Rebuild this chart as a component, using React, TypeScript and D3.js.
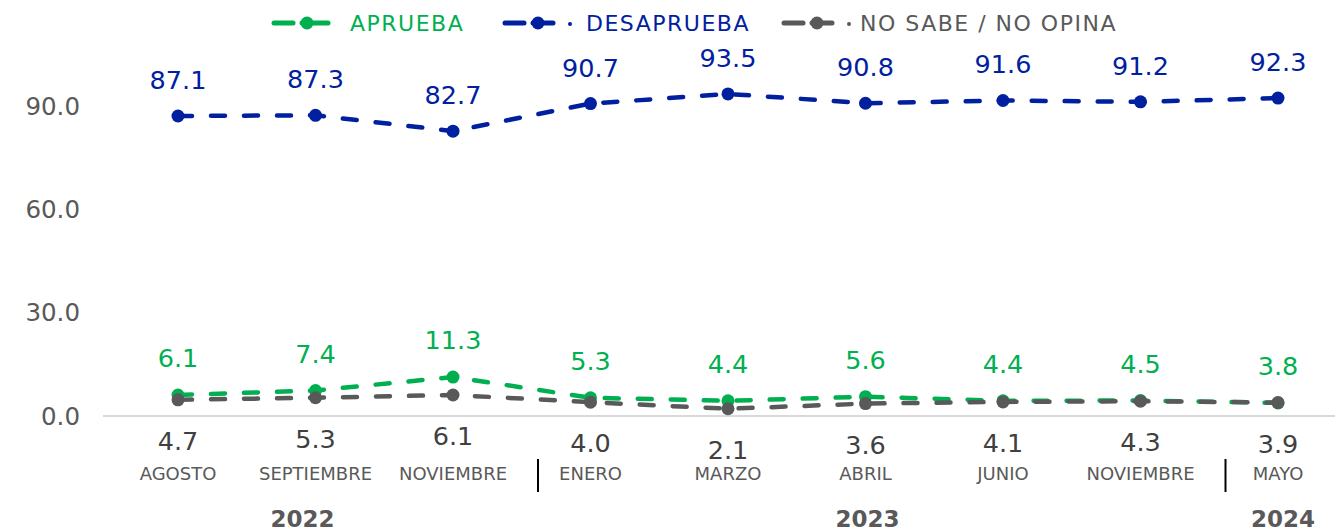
import React from 'react';
import * as d3 from 'd3';

const months = ['AGOSTO', 'SEPTIEMBRE', 'NOVIEMBRE', 'ENERO', 'MARZO', 'ABRIL', 'JUNIO', 'NOVIEMBRE', 'MAYO'];
const aprueba = [6.1, 7.4, 11.3, 5.3, 4.4, 5.6, 4.4, 4.5, 3.8];
const desaprueba = [87.1, 87.3, 82.7, 90.7, 93.5, 90.8, 91.6, 91.2, 92.3];
const noSabe = [4.7, 5.3, 6.1, 4.0, 2.1, 3.6, 4.1, 4.3, 3.9];
const yTicks = [0, 30, 60, 90];
const years = [
  { label: '2022', at: 1, dx: -13 },
  { label: '2023', at: 5, dx: 2 },
  { label: '2024', at: 8, dx: 5 },
];
const separators = [2, 7];

const GREEN = '#00B050';
const BLUE = '#0020A0';
const GRAY = '#595959';
const FONT = 'Verdana, "DejaVu Sans", sans-serif';

const W = 1335;
const H = 531;

export default function App() {
  const x = d3.scalePoint<number>().domain(d3.range(months.length)).range([178, 1278]);
  const y = d3.scaleLinear().domain([0, 90]).range([416, 106]);
  const line = d3.line<number>().x((d, i) => x(i)!).y(d => y(d));

  const series = [
    { key: 'DESAPRUEBA', values: desaprueba, color: BLUE, labelDy: -27 },
    { key: 'APRUEBA', values: aprueba, color: GREEN, labelDy: -28 },
    { key: 'NO SABE / NO OPINA', values: noSabe, color: GRAY, labelDy: 50 },
  ];

  const legend = [
    { key: 'APRUEBA', color: GREEN, x0: 272, tx: 350, dot2: false },
    { key: 'DESAPRUEBA', color: BLUE, x0: 503, tx: 586, dot2: true },
    { key: 'NO SABE / NO OPINA', color: GRAY, x0: 782, tx: 860, dot2: true },
  ];

  return (
    <svg width={W} height={H} style={{ position: 'absolute', left: 0, top: 0, background: '#fff' }} fontFamily={FONT}>
      {/* axis line */}
      <line x1={103} x2={W} y1={y(0)} y2={y(0)} stroke="#D9D9D9" strokeWidth={2} />

      {/* y ticks */}
      {yTicks.map(t => (
        <text key={t} x={80} y={y(t)} dy="0.36em" textAnchor="end" fontSize={24.5} fill={GRAY}>
          {t.toFixed(1)}
        </text>
      ))}

      {/* lines: desaprueba, aprueba, no sabe on top */}
      {series.map(s => (
        <g key={s.key}>
          <path d={line(s.values)!} fill="none" stroke={s.color} strokeWidth={4.5}
            strokeDasharray="14 19" strokeLinecap="round" />
          {s.values.map((v, i) => (
            <circle key={i} cx={x(i)} cy={y(v)} r={6.5} fill={s.color} />
          ))}
        </g>
      ))}

      {/* data labels */}
      {series.map(s => (
        <g key={s.key + '-lbl'}>
          {s.values.map((v, i) => (
            <text key={i} x={x(i)} y={y(v) + s.labelDy} textAnchor="middle" fontSize={25.5}
              fill={s.color === GRAY ? '#404040' : s.color}>
              {v.toFixed(1)}
            </text>
          ))}
        </g>
      ))}

      {/* month labels */}
      {months.map((m, i) => (
        <text key={i} x={x(i)} y={480} textAnchor="middle" fontSize={18} fill={GRAY}>
          {m}
        </text>
      ))}

      {/* separators */}
      {separators.map(i => (
        <line key={i} x1={x(i)! + 85} x2={x(i)! + 85} y1={459} y2={492} stroke="#000" strokeWidth={2} />
      ))}

      {/* years */}
      {years.map(yr => (
        <text key={yr.label} x={x(yr.at)! + yr.dx} y={527} textAnchor="middle" fontSize={23}
          fontWeight="bold" fill={GRAY}>
          {yr.label}
        </text>
      ))}

      {/* legend */}
      {legend.map(l => (
        <g key={l.key}>
          <line x1={l.x0 + 2} x2={l.x0 + 21} y1={23} y2={23} stroke={l.color} strokeWidth={5} strokeLinecap="round" />
          <line x1={l.x0 + 30} x2={l.x0 + (l.dot2 ? 50 : 56)} y1={23} y2={23} stroke={l.color} strokeWidth={5} strokeLinecap="round" />
          <circle cx={l.x0 + 35} cy={23} r={6.5} fill={l.color} />
          {l.dot2 && <circle cx={l.x0 + 67} cy={24} r={2} fill={l.color} />}
          <text x={l.tx} y={23} dy="0.36em" fontSize={22} letterSpacing={1.5}
            fill={l.color === GRAY ? GRAY : l.color}>
            {l.key}
          </text>
        </g>
      ))}
    </svg>
  );
}
